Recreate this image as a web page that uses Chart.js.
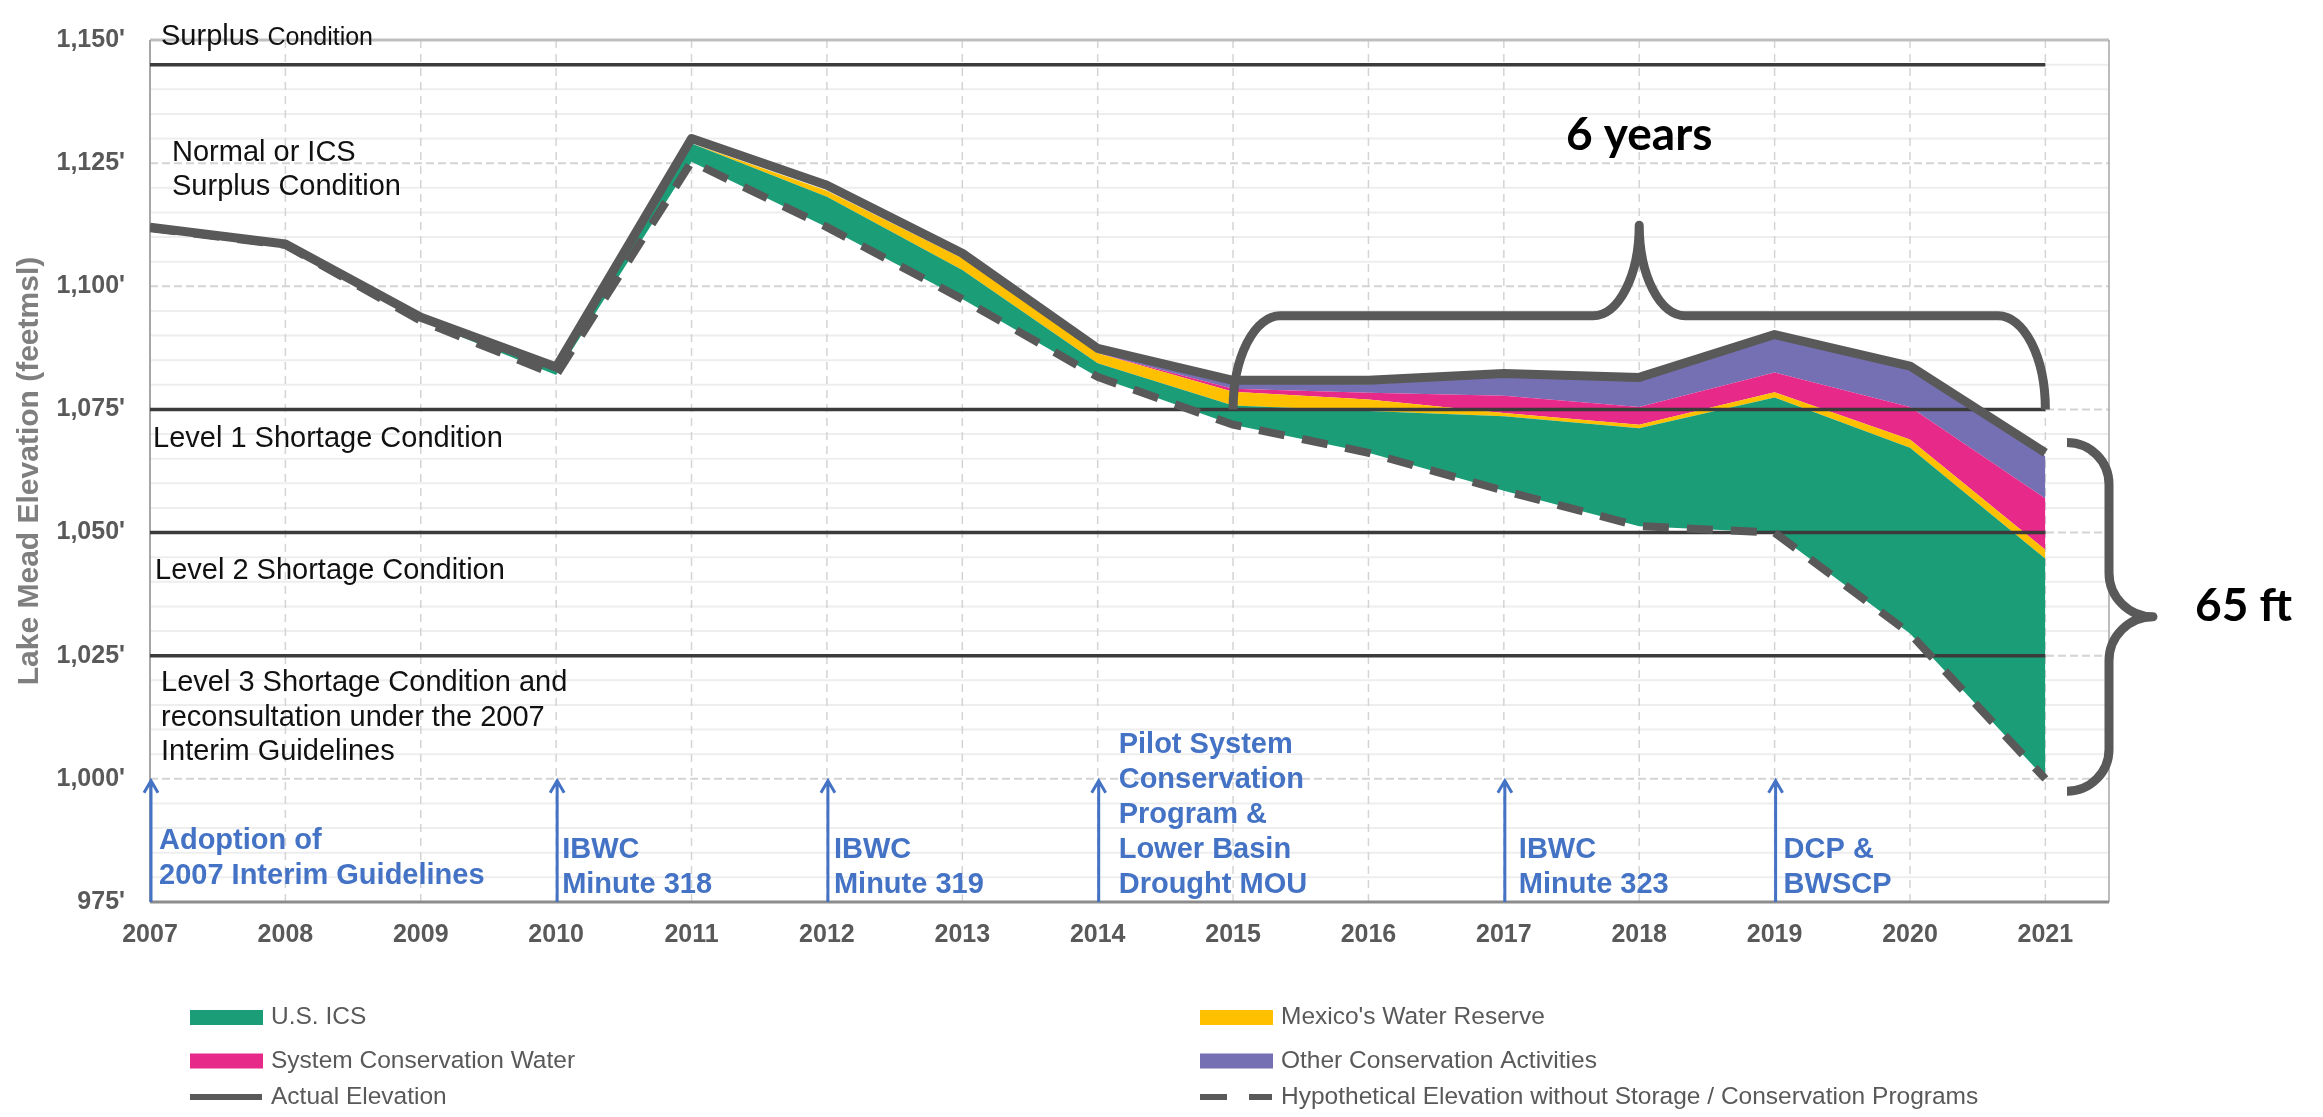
<!DOCTYPE html>
<html>
<head>
<meta charset="utf-8">
<title>Lake Mead Elevation</title>
<script src="https://cdn.jsdelivr.net/npm/chart.js@4.4.1/dist/chart.umd.min.js"></script>
<style>
  html, body { margin: 0; padding: 0; background: #fff; }
  canvas { display: block; }
</style>
</head>
<body>
<canvas id="lakeChart" width="2323" height="1117" style="width:2323px;height:1117px"></canvas>
<script>
// values, feet above mean sea level
const years = [2007, 2008, 2009, 2010, 2011, 2012, 2013, 2014, 2015, 2016, 2017, 2018, 2019, 2020, 2021]
const hypothetical = [1111.8, 1108.4, 1093.0, 1082.0, 1125.3, 1112.0, 1097.4, 1081.6, 1071.9, 1066.2, 1058.5, 1051.3, 1050.0, 1029.5, 1000.0]
// feet added on top of the hypothetical elevation by each program
const usIcs = [0.2, 0.2, 0.5, 1.0, 3.7, 6.2, 5.9, 2.8, 3.9, 8.5, 15.1, 19.9, 27.4, 37.7, 44.7]
const mexicoReserve = [0, 0, 0, 0, 0, 1.2, 2.4, 2.0, 2.8, 2.3, 0.7, 0.7, 1.1, 1.7, 1.8]
const systemConservation = [0, 0, 0, 0, 0, 0, 0, 0, 0.6, 1.4, 3.5, 3.6, 4.0, 6.6, 10.4]
const otherConservation = [0, 0, 0, 0, 0, 0, 0, 0.3, 1.1, 1.7, 3.8, 5.4, 6.9, 7.6, 8.6]
const actualElevation = [1112.0, 1108.6, 1093.7, 1083.6, 1130.0, 1120.5, 1106.7, 1087.4, 1080.9, 1080.9, 1082.3, 1081.5, 1090.2, 1083.8, 1066.2]

const yTicks = [975, 1000, 1025, 1050, 1075, 1100, 1125, 1150]
const conditionLevels = [1145, 1075, 1050, 1025]

const milestoneYears = [2007, 2010, 2012, 2014, 2017, 2019]
const milestoneLabels = [
  ['Adoption of', '2007 Interim Guidelines'],
  ['IBWC', 'Minute 318'],
  ['IBWC', 'Minute 319'],
  ['Pilot System', 'Conservation', 'Program &', 'Lower Basin', 'Drought MOU'],
  ['IBWC', 'Minute 323'],
  ['DCP &', 'BWSCP']
]

const FONT = '"Liberation Sans", Arial, sans-serif'
const GRAY = '#595959'

const addUp = (base, part) => base.map((v, i) => v + part[i])
const icsTop = addUp(hypothetical, usIcs)
const mexicoTop = addUp(icsTop, mexicoReserve)
const systemTop = addUp(mexicoTop, systemConservation)
const otherTop = addUp(systemTop, otherConservation)
const points = arr => arr.map((v, i) => ({ x: years[i], y: v }))

const area = (label, data, color) => ({
  label, data: points(data), fill: '-1', backgroundColor: color,
  borderWidth: 0, borderColor: color, order: 3
})

const datasets = [
  { label: 'Hypothetical Elevation without Storage / Conservation Programs', data: points(hypothetical),
    borderColor: GRAY, borderWidth: 8, borderDash: [26, 18], fill: false, order: 1 },
  area('U.S. ICS', icsTop, '#1b9e77'),
  area("Mexico's Water Reserve", mexicoTop, '#ffc000'),
  area('System Conservation Water', systemTop, '#e7298a'),
  area('Other Conservation Activities', otherTop, '#7570b3'),
  { label: 'Actual Elevation', data: points(actualElevation), borderColor: GRAY, borderWidth: 9,
    borderJoinStyle: 'round', fill: false, order: 0 }
]
conditionLevels.forEach(level => {
  datasets.push({ label: 'condition', data: [{ x: years[0], y: level }, { x: years[years.length - 1], y: level }],
    borderColor: '#3b3b3b', borderWidth: 3.5, fill: false, order: 2 })
})

// legend columns, dataset indexes
const legendColumns = [[1, 3, 5], [2, 4, 0]]

const backdrop = {
  id: 'backdrop',
  beforeDatasetsDraw (chart) {
    const { ctx, chartArea: a, scales: { x, y } } = chart
    ctx.save()
    for (let v = 980; v < 1150; v += 5) {
      const py = y.getPixelForValue(v)
      ctx.beginPath()
      if (v % 25 === 0) {
        ctx.setLineDash([8, 4])
        ctx.strokeStyle = '#d4d4d4'
        ctx.lineWidth = 2
      } else {
        ctx.setLineDash([])
        ctx.strokeStyle = '#eeeeee'
        ctx.lineWidth = 2
      }
      ctx.moveTo(a.left, py)
      ctx.lineTo(a.right, py)
      ctx.stroke()
    }
    ctx.setLineDash([8, 6])
    ctx.strokeStyle = '#d4d4d4'
    ctx.lineWidth = 1.5
    years.slice(1).forEach(yr => {
      const px = x.getPixelForValue(yr)
      ctx.beginPath()
      ctx.moveTo(px, a.top)
      ctx.lineTo(px, a.bottom)
      ctx.stroke()
    })
    ctx.setLineDash([])
    ctx.strokeStyle = '#bfbfbf'
    ctx.lineWidth = 3
    ctx.beginPath(); ctx.moveTo(a.left, a.top); ctx.lineTo(a.right, a.top); ctx.stroke()
    ctx.strokeStyle = '#a6a6a6'
    ctx.lineWidth = 2
    ctx.beginPath(); ctx.moveTo(a.left, a.top); ctx.lineTo(a.left, a.bottom); ctx.stroke()
    ctx.lineWidth = 1.5
    ctx.beginPath(); ctx.moveTo(a.right, a.top); ctx.lineTo(a.right, a.bottom); ctx.stroke()
    ctx.strokeStyle = '#8c8c8c'
    ctx.lineWidth = 3
    ctx.beginPath(); ctx.moveTo(a.left, a.bottom); ctx.lineTo(a.right, a.bottom); ctx.stroke()
    ctx.restore()
  }
}

const notes = {
  id: 'notes',
  afterDatasetsDraw (chart) {
    const { ctx, chartArea: a, scales: { x, y } } = chart
    ctx.save()
    ctx.textAlign = 'left'
    ctx.textBaseline = 'alphabetic'
    ctx.fillStyle = '#111'

    // condition zones
    ctx.font = '29px ' + FONT
    ctx.fillText('Surplus', 161, 45)
    const w = ctx.measureText('Surplus ').width
    ctx.font = '25px ' + FONT
    ctx.fillText('Condition', 161 + w, 45)
    ctx.font = '29px ' + FONT
    ctx.fillText('Normal or ICS', 172, 161)
    ctx.fillText('Surplus Condition', 172, 195)
    ctx.fillText('Level 1 Shortage Condition', 153, 447)
    ctx.fillText('Level 2 Shortage Condition', 155, 579)
    ctx.fillText('Level 3 Shortage Condition and', 161, 691)
    ctx.fillText('reconsultation under the 2007', 161, 726)
    ctx.fillText('Interim Guidelines', 161, 760)

    // milestones
    const offsets = [8, 5, 6, 20, 14, 8]
    const lastBase = [884, 893, 893, 893, 893, 893]
    ctx.strokeStyle = '#4472c4'
    ctx.fillStyle = '#4472c4'
    ctx.lineWidth = 3
    ctx.font = 'bold 29px ' + FONT
    milestoneYears.forEach((yr, i) => {
      const px = x.getPixelForValue(yr) + 1
      const tip = y.getPixelForValue(999.6)
      ctx.beginPath()
      ctx.moveTo(px, a.bottom)
      ctx.lineTo(px, tip)
      ctx.moveTo(px - 7, tip + 12)
      ctx.lineTo(px, tip)
      ctx.lineTo(px + 7, tip + 12)
      ctx.stroke()
      const lines = milestoneLabels[i]
      lines.forEach((t, j) => {
        ctx.fillText(t, px + offsets[i], lastBase[i] - (lines.length - 1 - j) * 35)
      })
    })

    // braces
    ctx.strokeStyle = GRAY
    ctx.lineWidth = 9
    ctx.lineJoin = 'round'
    const xl = x.getPixelForValue(2015)
    const xr = x.getPixelForValue(2021)
    const xm = x.getPixelForValue(2018)
    const yb = y.getPixelForValue(1075)
    const yh = y.getPixelForValue(1094)
    const yt = y.getPixelForValue(1112.4)
    const rx = 47
    const tw = 46
    ctx.beginPath()
    ctx.moveTo(xl, yb)
    ctx.ellipse(xl + rx, yb, rx, yb - yh, 0, Math.PI, 1.5 * Math.PI)
    ctx.lineTo(xm - tw, yh)
    ctx.ellipse(xm - tw, yt, tw, yh - yt, 0, 0.5 * Math.PI, 0, true)
    ctx.ellipse(xm + tw, yt, tw, yh - yt, 0, Math.PI, 0.5 * Math.PI, true)
    ctx.lineTo(xr - rx, yh)
    ctx.ellipse(xr - rx, yb, rx, yb - yh, 0, 1.5 * Math.PI, 2 * Math.PI)
    ctx.stroke()

    const xs = a.right
    const yT = y.getPixelForValue(1068.3)
    const yB = y.getPixelForValue(997.5)
    const yM = (yT + yB) / 2
    const r = 42
    const rt = 44
    ctx.beginPath()
    ctx.moveTo(xs - r, yT)
    ctx.ellipse(xs - r, yT + r, r, r, 0, 1.5 * Math.PI, 2 * Math.PI)
    ctx.lineTo(xs, yM - rt)
    ctx.ellipse(xs + rt, yM - rt, rt, rt, 0, Math.PI, 0.5 * Math.PI, true)
    ctx.ellipse(xs + rt, yM + rt, rt, rt, 0, 1.5 * Math.PI, Math.PI, true)
    ctx.lineTo(xs, yB - r)
    ctx.ellipse(xs - r, yB - r, r, r, 0, 0, 0.5 * Math.PI)
    ctx.stroke()

    ctx.fillStyle = '#000'
    ctx.font = 'bold 46px Lato, "Open Sans", sans-serif'
    ctx.textAlign = 'center'
    ctx.fillText('6 years', xm, 150)
    ctx.textAlign = 'left'
    ctx.fillText('65 ft', 2195, 621)
    ctx.restore()
  },
  afterDraw (chart) {
    const { ctx } = chart
    const ds = chart.data.datasets
    const swatchX = [190, 1200]
    const rowY = [1017.5, 1061, 1097]
    ctx.save()
    ctx.font = '24.5px ' + FONT
    ctx.textBaseline = 'middle'
    legendColumns.forEach((col, c) => {
      col.forEach((idx, r) => {
        const d = ds[idx]
        const sx = swatchX[c]
        const cy = rowY[r]
        if (d.fill) {
          ctx.fillStyle = d.backgroundColor
          ctx.fillRect(sx, cy - 7.5, 73, 15)
        } else {
          ctx.strokeStyle = d.borderColor
          ctx.lineWidth = 6
          ctx.setLineDash(d.borderDash ? [27, 22] : [])
          ctx.beginPath()
          ctx.moveTo(sx, cy)
          ctx.lineTo(sx + 72, cy)
          ctx.stroke()
          ctx.setLineDash([])
        }
        ctx.fillStyle = GRAY
        ctx.fillText(d.label, sx + 81, cy)
      })
    })
    ctx.restore()
  }
}

new Chart(document.getElementById('lakeChart'), {
  type: 'line',
  data: { datasets },
  options: {
    responsive: false,
    animation: false,
    layout: { padding: { top: 22, right: 214, bottom: 155, left: 0 } },
    elements: { point: { radius: 0 }, line: { tension: 0 } },
    plugins: { legend: { display: false }, tooltip: { enabled: false } },
    scales: {
      x: {
        type: 'linear',
        min: 2007,
        max: 2021.47,
        grid: { display: false, drawTicks: false },
        border: { display: false },
        afterBuildTicks: s => { s.ticks = years.map(v => ({ value: v })) },
        afterFit: s => { s.height = 60 },
        ticks: {
          padding: 18,
          color: GRAY,
          autoSkip: false,
          maxRotation: 0,
          font: { family: FONT, size: 25, weight: 'bold' },
          callback: v => String(v)
        }
      },
      y: {
        min: 975,
        max: 1150,
        grid: { display: false, drawTicks: false },
        border: { display: false },
        afterBuildTicks: s => { s.ticks = yTicks.map(v => ({ value: v })) },
        afterFit: s => { s.width = 150 },
        ticks: {
          padding: 25,
          color: GRAY,
          font: { family: FONT, size: 25, weight: 'bold' },
          callback: v => v.toLocaleString('en-US') + "'"
        },
        title: {
          display: true,
          text: 'Lake Mead Elevation (feetmsl)',
          color: '#7f7f7f',
          font: { family: FONT, size: 30, weight: 'bold' },
          padding: { top: 12, bottom: 0 }
        }
      }
    }
  },
  plugins: [backdrop, notes]
})
</script>
</body>
</html>
